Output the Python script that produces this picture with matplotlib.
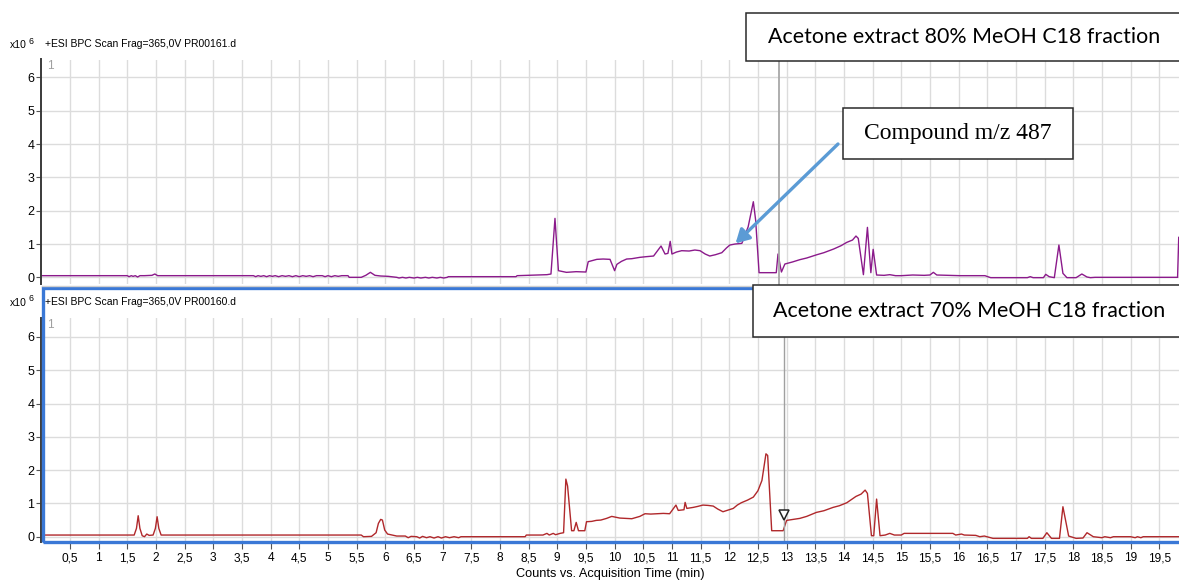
import matplotlib
matplotlib.use("Agg")
import matplotlib.pyplot as plt
from matplotlib.patches import Rectangle, FancyArrowPatch
from matplotlib.lines import Line2D

# ---------------- data (intensity in units of 10^6 counts) ----------------
top_time = [
    0.00, 1.50, 1.53, 1.57, 1.60, 1.64, 1.68, 1.72, 1.80, 1.93, 1.98, 2.03,
    3.70, 3.74, 3.78, 3.83, 3.88, 3.93, 3.98, 4.03, 4.08, 4.14, 4.20, 4.26,
    4.32, 4.38, 4.44, 4.50, 4.56, 4.62, 4.68, 4.74, 4.80, 4.90, 4.95, 5.00,
    5.06, 5.12, 5.18, 5.24, 5.35, 5.37,
    5.58, 5.66, 5.74, 5.82, 5.92, 6.05, 6.20, 6.24, 6.30, 6.36, 6.42, 6.50,
    6.56, 6.62, 6.70, 6.76, 6.82, 6.90, 6.96, 7.02, 7.08, 7.10, 8.28, 8.30,
    8.82, 8.89,
    8.96, 9.02, 9.16, 9.33, 9.50, 9.54, 9.69, 9.80, 9.92, 10.00, 10.04, 10.12,
    10.21, 10.30, 10.44, 10.55, 10.68, 10.81, 10.88, 10.93, 10.97, 11.00, 11.08, 11.17,
    11.30, 11.40, 11.49, 11.58, 11.66, 11.76, 11.87, 11.95, 12.01, 12.10, 12.22, 12.33,
    12.42, 12.46, 12.52, 12.82, 12.85, 12.91, 12.97, 13.10, 13.23, 13.35, 13.53, 13.65,
    13.82, 13.95, 14.05, 14.15, 14.21, 14.25, 14.34, 14.41, 14.47, 14.51, 14.57,
    14.70, 14.80, 14.90, 15.00, 15.20, 15.40, 15.50, 15.56, 15.62, 15.80, 16.02, 16.20,
    16.46, 16.56, 17.20, 17.25, 17.30, 17.48, 17.52, 17.58, 17.67, 17.75, 17.82, 17.89,
    18.05, 18.15, 18.24, 18.30, 18.38, 19.82, 19.84,
]
top_counts = [
    0.05, 0.05, 0.02, 0.05, 0.03, 0.05, 0.01, 0.05, 0.05, 0.06, 0.10, 0.05,
    0.05, 0.02, 0.05, 0.03, 0.05, 0.02, 0.05, 0.03, 0.05, 0.02, 0.05, 0.03,
    0.05, 0.02, 0.05, 0.02, 0.05, 0.03, 0.05, 0.02, 0.05, 0.05, 0.02, 0.05,
    0.02, 0.05, 0.03, 0.05, 0.05, 0.00,
    0.00, 0.06, 0.15, 0.06, 0.04, 0.03, 0.00, -0.02, 0.00, -0.02, 0.00, -0.02,
    0.00, -0.02, 0.00, -0.02, 0.00, -0.02, 0.00, -0.02, 0.00, 0.02, 0.02, 0.05,
    0.08, 0.10,
    1.77, 0.20, 0.15, 0.17, 0.16, 0.47, 0.54, 0.55, 0.54, 0.20, 0.39, 0.48,
    0.55, 0.56, 0.60, 0.62, 0.64, 0.94, 0.70, 0.72, 1.08, 0.70, 0.76, 0.80,
    0.79, 0.82, 0.80, 0.70, 0.64, 0.68, 0.74, 0.88, 0.97, 1.00, 1.02, 1.52,
    2.27, 1.72, 0.14, 0.14, 0.70, 0.16, 0.40, 0.46, 0.53, 0.58, 0.68, 0.74,
    0.85, 0.95, 1.05, 1.12, 1.24, 1.17, 0.08, 1.50, 0.14, 0.84, 0.07,
    0.06, 0.08, 0.05, 0.05, 0.07, 0.06, 0.07, 0.15, 0.07, 0.06, 0.05, 0.05,
    0.05, -0.01, -0.01, 0.02, -0.01, -0.01, 0.09, 0.02, -0.01, 0.97, 0.12, -0.01,
    -0.01, 0.10, 0.01, -0.01, 0.00, 0.00, 1.20,
]

bottom_time = [
    0.00, 1.62, 1.66, 1.69, 1.72, 1.76, 1.80, 1.84, 1.88, 1.95, 1.99, 2.02,
    2.05, 2.09,
    5.58, 5.62, 5.76, 5.84, 5.88, 5.92, 5.95, 5.99, 6.04, 6.12, 6.20, 6.35,
    6.40, 6.45, 6.55, 6.60, 6.65, 6.72, 6.78, 6.85, 6.92, 6.98, 7.05, 7.12,
    7.20, 7.28, 7.32, 8.44, 8.46, 8.75, 8.82, 8.86, 8.93, 8.97, 9.05, 9.11,
    9.15, 9.18, 9.25, 9.29, 9.33, 9.37, 9.48, 9.51, 9.60, 9.68, 9.76, 9.86,
    9.95, 10.09, 10.20, 10.30, 10.44, 10.53, 10.63, 10.73, 10.85, 10.96, 11.07, 11.11,
    11.21, 11.23, 11.26, 11.37, 11.45, 11.54, 11.63, 11.72, 11.80, 11.89, 11.98, 12.07,
    12.14, 12.21, 12.32, 12.42, 12.50, 12.57, 12.64, 12.67, 12.74, 12.94, 13.00, 13.12,
    13.23, 13.35, 13.52, 13.65, 13.81, 13.92, 14.05, 14.21, 14.30, 14.37, 14.41, 14.48,
    14.52, 14.57, 14.63,
    14.72, 14.80, 14.88, 15.00, 15.05, 15.90, 15.95, 16.05, 16.10, 16.30, 16.37, 16.45,
    16.60, 17.20, 17.23, 17.27, 17.47, 17.54, 17.62, 17.76, 17.82, 17.92, 18.05, 18.17,
    18.24, 18.35, 18.50, 18.55, 18.65, 18.70, 18.95, 19.00, 19.08, 19.12, 19.18, 19.22,
    19.85,
]
bottom_counts = [
    0.05, 0.05, 0.25, 0.63, 0.25, 0.03, 0.00, 0.08, 0.04, 0.05, 0.25, 0.60,
    0.25, 0.05,
    0.05, 0.00, 0.01, 0.12, 0.40, 0.52, 0.50, 0.20, 0.08, 0.05, 0.02, 0.02,
    -0.03, 0.01, 0.00, -0.04, 0.01, -0.03, 0.00, -0.04, 0.00, -0.04, 0.00, -0.03,
    0.00, -0.03, 0.00, 0.00, 0.05, 0.05, 0.10, 0.05, 0.10, 0.06, 0.10, 0.12,
    1.73, 1.52, 0.18, 0.18, 0.43, 0.18, 0.18, 0.45, 0.46, 0.49, 0.50, 0.55,
    0.61, 0.56, 0.55, 0.54, 0.61, 0.69, 0.68, 0.69, 0.70, 0.69, 0.95, 0.79,
    0.81, 1.03, 0.85, 0.88, 0.91, 0.95, 0.94, 0.92, 0.83, 0.75, 0.80, 0.85,
    0.95, 1.02, 1.10, 1.19, 1.38, 1.69, 2.49, 2.44, 0.18, 0.18, 0.49, 0.52,
    0.55, 0.61, 0.73, 0.78, 0.88, 0.93, 1.02, 1.21, 1.28, 1.40, 1.30, 0.03,
    0.03, 1.13, 0.03,
    0.05, 0.10, 0.05, 0.05, 0.10, 0.10, 0.05, 0.08, 0.05, 0.04, 0.00, 0.02,
    -0.05, -0.05, 0.00, -0.05, -0.05, 0.12, -0.05, -0.05, 0.90, 0.02, -0.05, -0.04,
    0.12, 0.00, -0.03, 0.00, -0.03, 0.00, 0.00, 0.00, -0.03, 0.00, -0.03, 0.00,
    0.00,
]

x_ticks = [0.5 * k for k in range(1, 40)]
x_tick_labels = [("%g" % v).replace(".", ",") for v in x_ticks]
y_ticks = [0, 1, 2, 3, 4, 5, 6]

top_title = "+ESI BPC Scan Frag=365,0V PR00161.d"
bottom_title = "+ESI BPC Scan Frag=365,0V PR00160.d"
top_label = "Acetone extract 80% MeOH C18 fraction"
bottom_label = "Acetone extract 70% MeOH C18 fraction"
compound_label = "Compound m/z 487"
x_axis_title = "Counts vs. Acquisition Time (min)"

top_cursor = 12.86
bottom_cursor = 12.96
bottom_marker_level = 0.65
compound_point = (12.11, 1.02)

# ---------------- layout helpers ----------------
W, H = 1179, 583
fig = plt.figure(figsize=(W / 100, H / 100), dpi=100)
fig.patch.set_facecolor("white")

def fx(px):
    return px / W

def fy(py):
    return 1 - py / H

X0, PX_PER_MIN = 41.3, 57.33
X_MAX = 19.85
SANS = ["Liberation Sans", "DejaVu Sans"]
BLUE = "#3a78d6"
GRID = "#dcdcdc"

def make_axes(py_top, py_bottom):
    ax = fig.add_axes([fx(X0), fy(py_bottom), X_MAX * PX_PER_MIN / W,
                       (py_bottom - py_top) / H])
    ax.set_xlim(0, X_MAX)
    ax.set_xticks(x_ticks)
    ax.set_yticks(y_ticks)
    ax.grid(True, color=GRID, lw=1.0)
    ax.set_axisbelow(True)
    for s in ("top", "right", "bottom"):
        ax.spines[s].set_visible(False)
    ax.spines["left"].set_color("#3a3a3a")
    ax.spines["left"].set_linewidth(1.4)
    ax.tick_params(axis="y", direction="out", length=3.5, width=0.8,
                   color="#555555", pad=1.5, labelsize=9)
    for lab in ax.get_yticklabels():
        lab.set_fontfamily(SANS)
    return ax

# top panel
ax1 = make_axes(59.5, 284.0)
ax1.set_ylim(-0.2, 6.54)
ax1.tick_params(axis="x", length=0, labelbottom=False)
ax1.plot(top_time, top_counts, color="#8b1a8b", lw=1.0)
ax1.axvline(top_cursor, color="#a8a8a8", lw=1.3, ymin=0, ymax=1.2, clip_on=False)

# bottom panel
ax2 = make_axes(318.3, 541.7)
ax2.set_ylim(-0.15, 6.56)
ax2.plot(bottom_time, bottom_counts, color="#b0282b", lw=1.0)
ax2.axvline(bottom_cursor, color="#a0a0a0", lw=1.0)
ax2.plot([bottom_cursor], [bottom_marker_level], marker="v", ms=7,
         mfc="white", mec="#222222", mew=1.1, ls="none")
ax2.set_xticklabels(x_tick_labels)
ax2.tick_params(axis="x", direction="out", length=5, width=0.8,
                color="#555555", pad=2.5, labelsize=8.6)
for lab in ax2.get_xticklabels():
    lab.set_fontfamily(SANS)
ax2.set_xlabel(x_axis_title, fontsize=9.2, family=SANS, labelpad=3)

# "1" panel index labels
for ax in (ax1, ax2):
    ax.text(0.1, 6.35, "1", color="#a0a0a0", fontsize=8.5, family=SANS,
            va="center", ha="left")

# panel headers and scale labels
for py, title in ((44, top_title), (302, bottom_title)):
    fig.text(fx(45), fy(py), title, fontsize=7.5, family=SANS,
             va="center", ha="left")
    fig.text(fx(10), fy(py + 1), "x10", fontsize=7.5, family=SANS,
             va="center", ha="left")
    fig.text(fx(28.5), fy(py - 3), "6", fontsize=6.3, family=SANS,
             va="center", ha="left")

# blue frame around the lower panel
fig.add_artist(Rectangle((fx(42.5), fy(541.5)), fx(1190) - fx(42.5),
                         fy(288) - fy(541.5), fill=False, ec=BLUE, lw=2.4))
fig.add_artist(Line2D([fx(42), fx(1179)], [fy(286.2), fy(286.2)],
                      color="#cfcfcf", lw=1.0))

# annotation boxes
def centred_box(x0, y0, x1, y1, text, family, size, cx):
    fig.add_artist(Rectangle((fx(x0), fy(y1)), fx(x1) - fx(x0), fy(y0) - fy(y1),
                             fc="white", ec="#2a2a2a", lw=1.1, zorder=5))
    fig.text(fx(cx), fy((y0 + y1) / 2), text, family=family,
             fontsize=size, ha="center", va="center", zorder=6)

centred_box(746, 13, 1190, 61, top_label, ["Lato", "DejaVu Sans"], 15.4, 964)
centred_box(753, 285, 1190, 337, bottom_label, ["Lato", "DejaVu Sans"], 15.4, 969)
centred_box(843, 108, 1073, 159, compound_label,
            ["Liberation Serif", "DejaVu Serif"], 17, 958)

# arrow from the compound box to the peak shoulder
start = fig.transFigure.transform((fx(838), fy(144)))
start_data = ax1.transData.inverted().transform(start)
arrow = FancyArrowPatch(start_data, compound_point, transform=ax1.transData,
                        arrowstyle="-|>,head_length=8,head_width=4.5",
                        color="#5b9bd5", lw=2.4, clip_on=False, zorder=7,
                        shrinkA=0, shrinkB=0)
ax1.add_artist(arrow)

fig.savefig("out.png", dpi=100, facecolor="white")
